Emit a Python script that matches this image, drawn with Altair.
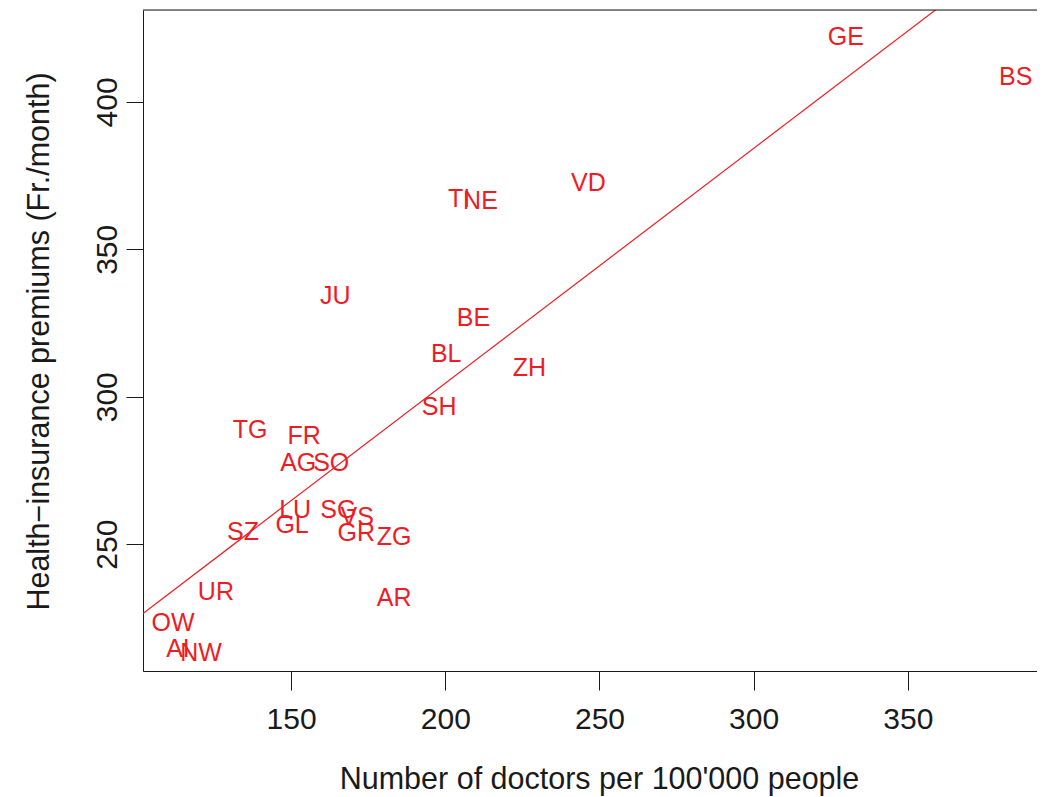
import altair as alt
import pandas as pd

# Swiss cantons: doctors per 100'000 people vs monthly health-insurance premium
canton = ["GE", "BS", "VD", "TI", "NE", "JU", "BE", "BL", "ZH", "SH",
          "TG", "FR", "AG", "SO", "LU", "GL", "SG", "VS", "GR", "ZG",
          "SZ", "UR", "AR", "OW", "AI", "NW"]
doctors = [329.9, 385.0, 246.4, 204.5, 211.4, 164.3, 209.1, 200.3, 227.3, 198.0,
           136.7, 154.2, 152.3, 163.0, 151.3, 150.3, 165.3, 171.4, 171.1, 183.4,
           134.4, 125.6, 183.4, 111.7, 113.3, 120.8]
premium = [422.3, 408.8, 372.9, 367.5, 366.8, 334.6, 327.2, 314.7, 310.0, 297.0,
           288.9, 286.9, 277.8, 277.8, 261.9, 256.8, 261.8, 259.5, 254.1, 252.7,
           254.4, 234.1, 232.1, 223.6, 214.8, 213.5]

x_ticks = [150, 200, 250, 300, 350]
y_ticks = [250, 300, 350, 400]
x_domain = [101.95, 391.9]
y_domain = [207.0, 431.15]

df = pd.DataFrame({"canton": canton, "doctors": doctors, "premium": premium})

W, H = 894, 661
FONT = "Liberation Sans"
AXCOL = "#1a1a1a"

xscale = alt.Scale(domain=x_domain, nice=False, zero=False)
yscale = alt.Scale(domain=y_domain, nice=False, zero=False)

x_axis = alt.Axis(
    values=x_ticks, grid=False, tickSize=19, tickColor=AXCOL, tickWidth=1,
    domainColor=AXCOL, domainWidth=1,
    labelFont=FONT, labelFontSize=30, labelColor=AXCOL,
    labelBaseline="alphabetic", labelPadding=38, labelFlush=False, labelOverlap=False,
    title="Number of doctors per 100'000 people",
    titleFont=FONT, titleFontSize=30.5, titleFontWeight="normal", titleColor=AXCOL,
    titleAlign="center", titleBaseline="alphabetic", titleX=456, titleY=117,
)
y_axis = alt.Axis(
    values=y_ticks, grid=False, tickSize=17, tickColor=AXCOL, tickWidth=1,
    domainColor=AXCOL, domainWidth=1,
    labelFont=FONT, labelFontSize=30, labelColor=AXCOL,
    labelAngle=270, labelAlign="center", labelBaseline="alphabetic",
    labelPadding=10, labelFlush=False, labelOverlap=False,
    title="Health\u2212insurance premiums (Fr./month)",
    titleFont=FONT, titleFontSize=30.5, titleFontWeight="normal", titleColor=AXCOL,
    titleAngle=270, titleAlign="center", titleBaseline="alphabetic",
    titleX=-95, titleY=331,
)

base = alt.Chart(df)

labels = base.mark_text(font=FONT, fontSize=25, color="#ee1c25", dy=1).encode(
    x=alt.X("doctors:Q", scale=xscale, axis=x_axis),
    y=alt.Y("premium:Q", scale=yscale, axis=y_axis),
    text="canton:N",
)

fit = base.transform_regression(
    "doctors", "premium", extent=x_domain
).mark_line(color="#ee1c25", strokeWidth=1.2, clip=True).encode(
    x=alt.X("doctors:Q", scale=xscale),
    y=alt.Y("premium:Q", scale=yscale),
)

top_border = alt.Chart(pd.DataFrame({"k": [0]})).mark_rule(
    color=AXCOL, strokeWidth=1
).encode(x=alt.value(0), x2=alt.value(W), y=alt.value(0))

chart = alt.layer(fit, labels, top_border).properties(
    width=W, height=H,
    autosize=alt.AutoSizeParams(type="none"),
    padding={"left": 135, "top": 2, "right": 0, "bottom": 126},
).configure_view(stroke=None).configure(background="white")

chart.save("out.html", embed_options={"renderer": "svg", "actions": False})
